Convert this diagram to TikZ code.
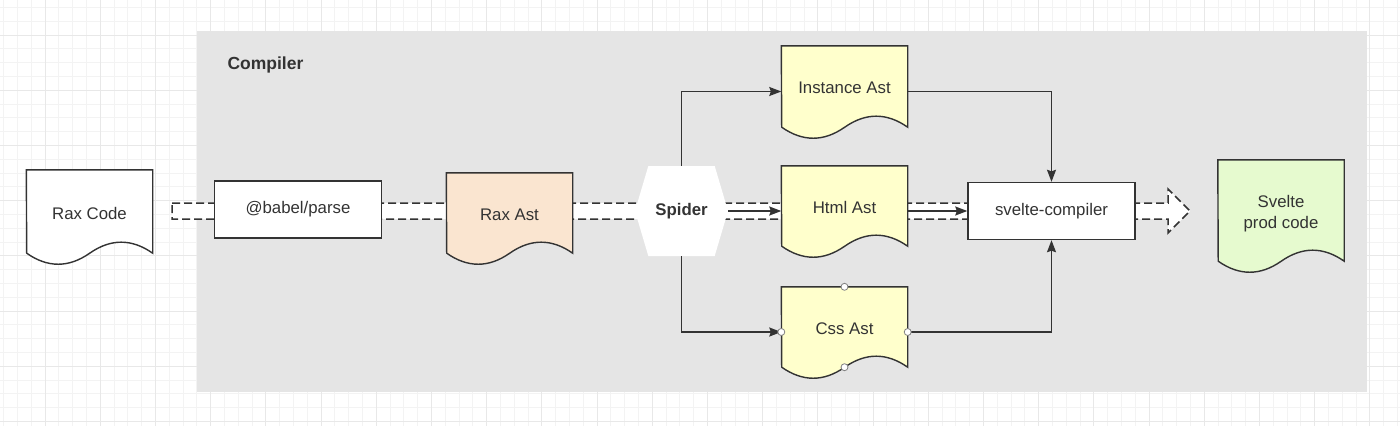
\documentclass[tikz,border=0pt]{standalone}
\usepackage{fontspec}
\setmainfont{Liberation Sans}
\usetikzlibrary{arrows.meta,shapes.symbols}

\definecolor{linegray}{HTML}{333333}
\definecolor{textgray}{HTML}{333333}
\definecolor{regiongray}{HTML}{E5E5E5}
\definecolor{minorgrid}{HTML}{F3F3F3}
\definecolor{majorgrid}{HTML}{E8E8E8}
\definecolor{peach}{HTML}{FAE5D0}
\definecolor{paleyellow}{HTML}{FFFFCC}
\definecolor{palegreen}{HTML}{E6FACF}

\pgfdeclarelayer{back}
\pgfdeclarelayer{docs}
\pgfsetlayers{back,docs,main}

% wavy document outline behind a named node
\newcommand{\wavedoc}[2]{%
  \begin{pgfonlayer}{docs}
    \draw[docline, fill=#2] (#1.north west) -- (#1.north east) -- ([yshift=10pt]#1.south east)
      .. controls +(-21,-14.7) and +(21,-14.7) .. ++(-63,0)
      .. controls +(-21,14.7) and +(21,14.7) .. ++(-63,0) -- cycle;
  \end{pgfonlayer}}

\begin{document}
\begin{tikzpicture}[x=1pt, y=-1pt,
  font=\fontsize{16.8}{21}\selectfont, text=textgray,
  minorline/.style={draw=minorgrid, line width=0.8pt},
  majorline/.style={draw=majorgrid, line width=0.8pt},
  docline/.style={draw=linegray, line width=1.4pt},
  docbox/.style={minimum width=126pt, inner sep=0pt, text depth=7pt},
  procbox/.style={draw=linegray, line width=1.4pt, fill=white, minimum width=167pt, minimum height=57pt},
  spiderhex/.style={shape=signal, signal to=east and west, signal pointer angle=147, fill=white,
    minimum width=93pt, minimum height=90pt, inner sep=0pt, font=\fontsize{16.8}{21}\selectfont\bfseries},
  flow/.style={draw=linegray, line width=1.5pt, fill=white, dash pattern=on 8pt off 4pt},
  conn/.style={draw=linegray, line width=1.4pt, -{Stealth[length=12pt, width=9pt, inset=1.5pt]}},
  handle/.style={draw=gray, fill=white, line width=0.8pt}]
  \useasboundingbox (0,0) rectangle (1400,426);

  % Grid and compiler region
  \begin{pgfonlayer}{back}
    \fill[white] (0,0) rectangle (1400,426);
    \foreach \gx in {-3,...,98}
      \draw[minorline] ({45+13.8*\gx},0) -- ({45+13.8*\gx},426);
    \foreach \gy in {-2,...,28}
      \draw[minorline] (0,{35+13.8*\gy}) -- (1400,{35+13.8*\gy});
    \foreach \gx in {0,...,24}
      \draw[majorline] ({45+55.2*\gx},0) -- ({45+55.2*\gx},426);
    \foreach \gy in {0,...,7}
      \draw[majorline] (0,{35+55.2*\gy}) -- (1400,{35+55.2*\gy});
    \fill[regiongray] (197,31) rectangle (1367,392);

    % Big dashed flow arrow
    \coordinate (flowstart) at (172,211);
    \coordinate (flowtip) at (1190,211);
    \draw[flow] (flowstart) ++(0,-8) -- ++(996,0) -- ++(0,-14) -- (flowtip)
      -- ++(-22,22) -- ++(0,-14) -- ++(-996,0) -- cycle;
  \end{pgfonlayer}

  \node[anchor=west, font=\fontsize{17.5}{21}\selectfont\bfseries] (complabel) at (224,65) {Compiler};

  % Nodes
  \node[docbox, minimum height=93pt] (raxcode) at (89.5,216.5) {Rax Code};
  \node[procbox] (babel) at (298,209.5) {@babel/parse};
  \node[docbox, minimum height=90pt] (raxast) at (509.5,218) {Rax Ast};
  \node[spiderhex] (spider) at (681.5,211) {Spider};
  \node[docbox, minimum height=91pt] (instast) at (844.5,91.5) {Instance Ast};
  \node[docbox, minimum height=90pt] (htmlast) at (844.5,211) {Html Ast};
  \node[docbox, minimum height=90pt] (cssast) at (844.5,332) {Css Ast};
  \node[procbox] (svcomp) at (1051.5,211) {svelte-compiler};
  \node[docbox, minimum height=111pt, align=center] (svprod) at (1281,215.5) {Svelte\\prod code};

  \wavedoc{raxcode}{white}
  \wavedoc{raxast}{peach}
  \wavedoc{instast}{paleyellow}
  \wavedoc{htmlast}{paleyellow}
  \wavedoc{cssast}{paleyellow}
  \wavedoc{svprod}{palegreen}

  % Connectors
  \draw[conn] (spider.north) |- (instast.west);
  \draw[conn] (spider.south) |- (cssast.west);
  \draw[conn] (spider.east) -- (htmlast.west);
  \draw[conn] (htmlast.east) -- (svcomp.west);
  \draw[conn] (instast.east) -| (svcomp.north);
  \draw[conn] (cssast.east) -| (svcomp.south);

  % Selection handles on Css Ast
  \foreach \hp in {north, west, east}
    \draw[handle] (cssast.\hp) circle (3.5pt);
  \draw[handle] ([yshift=10pt]cssast.south) circle (3.5pt);
\end{tikzpicture}
\end{document}
